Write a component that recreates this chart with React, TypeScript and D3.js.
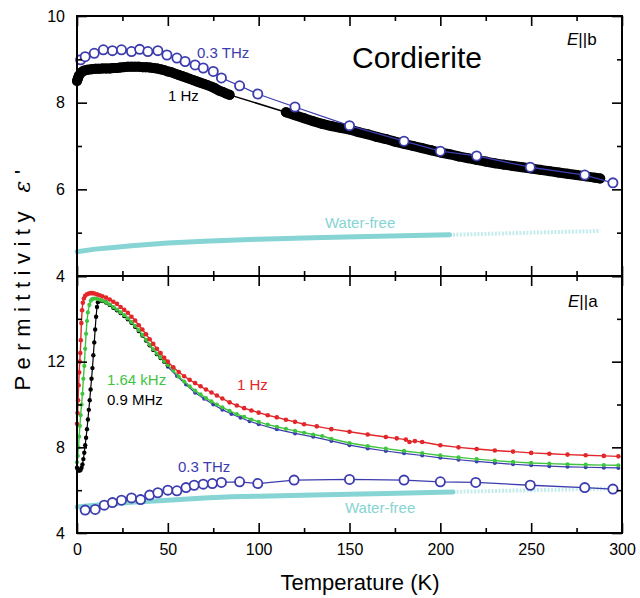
import React, { useEffect, useRef } from "react";
import * as d3 from "d3";

type P = [number, number];

// ---- E||b panel (upper) ----
const bThz: P[] = [
  [2, 8.99], [4.5, 9.06], [9.5, 9.14], [14.5, 9.22], [19.5, 9.2], [24.5, 9.22], [30, 9.18],
  [34.5, 9.23], [39, 9.18], [44.5, 9.2], [49.5, 9.1], [55, 9.03], [59.5, 8.95], [65, 8.87],
  [69.5, 8.8], [75, 8.72], [79.5, 8.57], [89.5, 8.39], [99.5, 8.2], [120, 7.9], [150, 7.47],
  [180, 7.11], [200, 6.88], [220, 6.77], [249.5, 6.51], [279.5, 6.33], [295, 6.15],
];
const b1HzLow: P[] = [
  [0, 8.5], [0.5, 8.56], [1, 8.62], [2, 8.68], [3, 8.72], [4, 8.74], [6, 8.76], [8, 8.77],
  [10, 8.78], [12, 8.78], [14, 8.79], [16, 8.79], [18, 8.79], [20, 8.8], [22, 8.8], [24, 8.81],
  [26, 8.82], [28, 8.83], [30, 8.83], [32, 8.83], [34, 8.83], [36, 8.82], [38, 8.82], [40, 8.81],
  [42, 8.8], [44, 8.79], [46, 8.77], [48, 8.75], [50, 8.72], [52, 8.7], [54, 8.67], [56, 8.64],
  [58, 8.61], [60, 8.58], [62, 8.55], [64, 8.52], [66, 8.49], [68, 8.46], [70, 8.43], [72, 8.4],
  [74, 8.37], [76, 8.33], [78, 8.28], [80, 8.25], [82, 8.21], [84, 8.18],
];
const b1HzHigh: P[] = [
  [115, 7.78], [120, 7.71], [125, 7.64], [130, 7.57], [135, 7.51], [140, 7.46], [145, 7.42],
  [150, 7.38], [155, 7.32], [160, 7.27], [165, 7.21], [170, 7.16], [175, 7.1], [180, 7.05],
  [185, 7.0], [190, 6.95], [195, 6.9], [200, 6.85], [205, 6.81], [210, 6.76], [215, 6.72],
  [220, 6.68], [225, 6.64], [230, 6.6], [235, 6.57], [240, 6.54], [245, 6.51], [250, 6.48],
  [255, 6.45], [260, 6.42], [265, 6.39], [270, 6.36], [275, 6.33], [280, 6.3], [285, 6.27], [288, 6.25],
];
const bDry: P[] = [
  [0, 4.56], [10, 4.62], [20, 4.66], [30, 4.7], [50, 4.76], [70, 4.8], [100, 4.85], [130, 4.88],
  [160, 4.91], [205, 4.95],
];
const bDryFaint: P[] = [[205, 4.95], [250, 5.0], [288, 5.04]];

// ---- E||a panel (lower) ----
const a1Hz: P[] = [
  [0, 9.1], [0.3, 9.6], [0.6, 10.2], [0.9, 10.9], [1.2, 11.5], [1.5, 12.0], [1.8, 12.4], [2.1, 13.0],
  [2.4, 13.8], [2.8, 14.4], [3.2, 14.75], [3.8, 14.95], [4.5, 15.08], [5.5, 15.15], [6.5, 15.18],
  [7.5, 15.2], [8.5, 15.2], [9.5, 15.18], [11, 15.14], [12.5, 15.1], [14, 15.05], [16, 14.99],
  [18, 14.9], [20, 14.8], [22, 14.7], [24, 14.55], [26, 14.42], [28, 14.28], [30, 14.1], [32, 13.92],
  [34, 13.7], [36, 13.5], [38, 13.28], [40, 13.05], [42, 12.83], [44, 12.6], [46, 12.4], [48, 12.18],
  [50, 12.0], [53, 11.74], [56, 11.52], [59, 11.32], [62, 11.15], [65, 11.0], [68, 10.85], [71, 10.7],
  [74, 10.56], [77, 10.42], [80, 10.28], [84, 10.1], [88, 9.95], [92, 9.83], [96, 9.72], [100, 9.62],
  [105, 9.5], [110, 9.4], [115, 9.29], [120, 9.19], [125, 9.08], [132, 8.98], [140, 8.85], [150, 8.73],
  [160, 8.6], [170, 8.48], [176, 8.42], [181, 8.36], [183, 8.25], [186, 8.29], [190, 8.25], [200, 8.1],
  [210, 8.0], [220, 7.92], [230, 7.85], [240, 7.8], [250, 7.74], [260, 7.7], [270, 7.66], [280, 7.63],
  [290, 7.6], [298, 7.58],
];
const a164k: P[] = [
  [0, 7.3], [0.4, 7.6], [0.8, 8.0], [1.2, 8.5], [1.6, 9.0], [2.0, 9.5], [2.5, 10.0], [3.0, 10.5],
  [3.5, 11.2], [4.0, 11.8], [4.5, 12.6], [5.0, 13.3], [5.5, 13.9], [6.0, 14.3], [6.8, 14.65],
  [7.6, 14.85], [8.5, 14.93], [9.5, 14.95], [11, 14.93], [12.5, 14.9], [14, 14.85], [16, 14.77],
  [18, 14.67], [20, 14.55], [22, 14.43], [24, 14.3], [26, 14.17], [28, 14.02], [30, 13.85], [32, 13.67],
  [34, 13.47], [36, 13.25], [38, 13.02], [40, 12.8], [42, 12.58], [44, 12.38], [46, 12.2], [48, 12.02],
  [50, 11.85], [53, 11.58], [56, 11.3], [59, 11.07], [62, 10.85], [65, 10.65], [68, 10.47], [71, 10.3],
  [74, 10.15], [77, 10.0], [80, 9.87], [84, 9.7], [88, 9.55], [92, 9.42], [96, 9.3], [100, 9.19],
  [105, 9.06], [110, 8.96], [115, 8.86], [120, 8.77], [125, 8.68], [130, 8.6], [135, 8.53], [140, 8.4],
  [150, 8.2], [160, 8.06], [170, 7.94], [180, 7.83], [190, 7.73], [200, 7.62], [210, 7.53], [220, 7.45],
  [230, 7.38], [240, 7.32], [250, 7.27], [260, 7.24], [270, 7.21], [280, 7.19], [290, 7.17], [298, 7.16],
];
const a09M: P[] = [
  [0, 7.05], [0.5, 6.95], [1, 6.92], [1.5, 6.92], [2, 6.95], [2.5, 7.05], [3, 7.2], [3.5, 7.45],
  [4, 7.75], [4.5, 8.1], [5, 8.45], [5.5, 8.85], [6, 9.3], [6.5, 9.75], [7, 10.2], [7.5, 10.7],
  [8, 11.2], [8.5, 11.7], [9, 12.3], [9.5, 12.9], [10, 13.5], [10.5, 14.1], [11, 14.55], [11.5, 14.78],
  [12.5, 14.85], [14, 14.83], [16, 14.76], [18, 14.65], [20, 14.52], [22, 14.4], [24, 14.27], [26, 14.13],
  [28, 13.98], [30, 13.82], [32, 13.63], [34, 13.43], [36, 13.22], [38, 12.99], [40, 12.77], [42, 12.55],
  [44, 12.35], [46, 12.17], [48, 12.0], [50, 11.83],
];
const aHiFreq: P[] = [
  [50, 11.76], [55, 11.33], [60, 10.93], [65, 10.55], [70, 10.27], [75, 10.0], [80, 9.76], [85, 9.56],
  [90, 9.38], [95, 9.22], [100, 9.08], [110, 8.84], [120, 8.65], [130, 8.49], [140, 8.3], [150, 8.1],
  [160, 7.95], [170, 7.83], [180, 7.72], [190, 7.62], [200, 7.51], [210, 7.42], [220, 7.34], [230, 7.27],
  [240, 7.21], [250, 7.16], [260, 7.12], [270, 7.09], [280, 7.07], [290, 7.05], [298, 7.04],
];
const aThz: P[] = [
  [4.5, 5.07], [10, 5.1], [15, 5.3], [19.5, 5.42], [24.5, 5.53], [30, 5.64], [35, 5.56], [40, 5.77],
  [44.5, 5.88], [50, 6.0], [55, 5.97], [60, 6.12], [64.5, 6.23], [69.5, 6.28], [74.5, 6.31],
  [79.5, 6.36], [89.5, 6.39], [99.5, 6.31], [119.5, 6.47], [150, 6.5], [180, 6.47], [200, 6.39],
  [219.5, 6.36], [249.5, 6.23], [279.5, 6.12], [295, 6.05],
];
const aDry: P[] = [
  [0, 5.22], [10, 5.3], [20, 5.37], [30, 5.43], [50, 5.53], [70, 5.63], [85, 5.69], [100, 5.72],
  [130, 5.77], [170, 5.84], [207, 5.92],
];
const aDryFaint: P[] = [[207, 5.92], [240, 5.98], [270, 6.03], [298, 6.08]];

const xMajor = [0, 50, 100, 150, 200, 250, 300];
const xMinor = [25, 75, 125, 175, 225, 275];
const bMajor = [4, 6, 8, 10];
const bMinor = [5, 7, 9];
const bLabels = [4, 6, 8, 10];
const aMajor = [4, 8, 12, 16];
const aMinor = [6, 10, 14];
const aLabels = [4, 8, 12];

const BLUE = "#3c3cae";
const CYAN = "#86d4d4";
const CYAN_FAINT = "#c4ecec";
const RED = "#e2262a";
const GREEN = "#3fc43f";
const FONT = "'Liberation Sans', Arial, sans-serif";

export default function App() {
  const ref = useRef<SVGSVGElement>(null);

  useEffect(() => {
    const svg = d3.select(ref.current);
    svg.selectAll("*").remove();

    const left = 77, right = 622, top = 16, mid = 276, bottom = 533;

    const x = d3.scaleLinear().domain([0, 300]).range([left, right]);
    const yB = d3.scaleLinear().domain([4, 10]).range([mid, top]);
    const yA = d3.scaleLinear().domain([4, 16]).range([bottom, mid]);

    const drawAxes = (y: d3.ScaleLinear<number, number>, major: number[], minor: number[], labels: number[], y0: number, y1: number, xLabels: boolean) => {
      const g = svg.append("g");
      const style = (a: d3.Selection<SVGGElement, unknown, null, undefined>) => {
        a.select(".domain").remove();
        a.selectAll("line").attr("stroke", "#000").attr("stroke-width", 1.6);
        a.selectAll("text").attr("font-family", FONT).attr("font-size", 16).attr("fill", "#000");
      };
      // bottom
      g.append("g").attr("transform", `translate(0,${y0})`)
        .call(d3.axisBottom(x).tickValues(xMajor).tickSize(-10).tickPadding(11).tickFormat((d) => (xLabels ? String(d) : "")))
        .call(style);
      g.append("g").attr("transform", `translate(0,${y0})`)
        .call(d3.axisBottom(x).tickValues(xMinor).tickSize(-5).tickFormat(() => ""))
        .call(style);
      // top
      g.append("g").attr("transform", `translate(0,${y1})`)
        .call(d3.axisTop(x).tickValues(xMajor).tickSize(-10).tickFormat(() => ""))
        .call(style);
      g.append("g").attr("transform", `translate(0,${y1})`)
        .call(d3.axisTop(x).tickValues(xMinor).tickSize(-5).tickFormat(() => ""))
        .call(style);
      // left
      g.append("g").attr("transform", `translate(${left},0)`)
        .call(d3.axisLeft(y).tickValues(major).tickSize(-10).tickPadding(12).tickFormat((d) => (labels.includes(d as number) ? String(d) : "")))
        .call(style);
      g.append("g").attr("transform", `translate(${left},0)`)
        .call(d3.axisLeft(y).tickValues(minor).tickSize(-5).tickFormat(() => ""))
        .call(style);
      // right
      g.append("g").attr("transform", `translate(${right},0)`)
        .call(d3.axisRight(y).tickValues(major).tickSize(-10).tickFormat(() => ""))
        .call(style);
      g.append("g").attr("transform", `translate(${right},0)`)
        .call(d3.axisRight(y).tickValues(minor).tickSize(-5).tickFormat(() => ""))
        .call(style);
    };

    const lineOf = (y: d3.ScaleLinear<number, number>) =>
      d3.line<P>().x((d) => x(d[0])).y((d) => y(d[1]));

    const path = (data: P[], y: d3.ScaleLinear<number, number>, color: string, width: number, dash?: string) => {
      svg.append("path").attr("d", lineOf(y)(data))
        .attr("fill", "none").attr("stroke", color).attr("stroke-width", width)
        .attr("stroke-linecap", dash ? "butt" : "round").attr("stroke-linejoin", "round")
        .attr("stroke-dasharray", dash ?? null);
    };

    const dots = (data: P[], y: d3.ScaleLinear<number, number>, color: string, r: number) => {
      svg.append("g").selectAll("circle").data(data).join("circle")
        .attr("cx", (d) => x(d[0])).attr("cy", (d) => y(d[1])).attr("r", r).attr("fill", color);
    };

    const rings = (data: P[], y: d3.ScaleLinear<number, number>) => {
      path(data, y, BLUE, 1.3);
      svg.append("g").selectAll("circle").data(data).join("circle")
        .attr("cx", (d) => x(d[0])).attr("cy", (d) => y(d[1])).attr("r", 4.6)
        .attr("fill", "#fff").attr("stroke", BLUE).attr("stroke-width", 1.8);
    };

    const label = (t: string, px: number, py: number, color: string, size: number) =>
      svg.append("text").attr("x", px).attr("y", py).attr("fill", color)
        .attr("font-family", FONT).attr("font-size", size).text(t);

    // ---- upper panel data ----
    path(bDryFaint, yB, CYAN_FAINT, 4, "2 1.5");
    path(bDry, yB, CYAN, 5);
    path([...b1HzLow, ...b1HzHigh], yB, "#000", 1.5);
    path(b1HzLow, yB, "#000", 10);
    path(b1HzHigh, yB, "#000", 10);
    dots(b1HzLow, yB, "#000", 5);
    dots(b1HzHigh, yB, "#000", 5);
    rings(bThz, yB);

    // ---- lower panel data ----
    path(aDryFaint, yA, CYAN_FAINT, 4, "2 1.5");
    path(aDry, yA, CYAN, 5);
    path(aHiFreq, yA, BLUE, 1.2);
    dots(aHiFreq, yA, BLUE, 2.0);
    path(a09M, yA, "#000", 1.2);
    dots(a09M, yA, "#000", 2.2);
    path(a164k, yA, GREEN, 1.4);
    dots(a164k, yA, GREEN, 2.1);
    path(a1Hz, yA, RED, 1.4);
    dots(a1Hz, yA, RED, 2.3);
    rings(aThz, yA);

    // ---- axes and frames ----
    drawAxes(yB, bMajor, bMinor, bLabels, mid, top, false);
    drawAxes(yA, aMajor, aMinor, aLabels, bottom, mid, true);
    svg.append("rect").attr("x", left).attr("y", top).attr("width", right - left).attr("height", bottom - top)
      .attr("fill", "none").attr("stroke", "#000").attr("stroke-width", 2);
    svg.append("line").attr("x1", left).attr("x2", right).attr("y1", mid).attr("y2", mid)
      .attr("stroke", "#000").attr("stroke-width", 2);

    // ---- texts ----
    label("0.3 THz", 197, 58, BLUE, 15);
    label("1 Hz", 168, 101, "#000", 15);
    label("Cordierite", 352, 68, "#000", 30);
    label("Water-free", 325, 228, CYAN, 15);
    label("1.64 kHz", 107, 385, GREEN, 15);
    label("0.9 MHz", 107, 405, "#000", 15);
    label("1 Hz", 237, 390, RED, 15);
    label("0.3 THz", 178, 472, BLUE, 15);
    label("Water-free", 345, 513, CYAN, 15);

    const eLabel = (sub: string, px: number, py: number) => {
      const t = svg.append("text").attr("x", px).attr("y", py).attr("font-family", FONT).attr("font-size", 17).attr("fill", "#000");
      t.append("tspan").attr("font-style", "italic").text("E");
      t.append("tspan").text("||" + sub);
    };
    eLabel("b", 567, 45);
    eLabel("a", 568, 307);

    svg.append("text").attr("x", 360).attr("y", 590).attr("text-anchor", "middle")
      .attr("font-family", FONT).attr("font-size", 22).attr("fill", "#000").text("Temperature (K)");

    const yl = svg.append("text").attr("transform", `translate(30,277) rotate(-90)`).attr("text-anchor", "middle")
      .attr("font-family", FONT).attr("font-size", 22).attr("letter-spacing", 6.5).attr("fill", "#000");
    yl.append("tspan").text("Permittivity ");
    yl.append("tspan").attr("font-family", "'DejaVu Serif', serif").attr("font-style", "italic").text("ε");
    yl.append("tspan").text("'");
  }, []);

  return (
    <div style={{ position: "absolute", left: 0, top: 0 }}>
      <svg ref={ref} width={640} height={598} style={{ display: "block", background: "#fff" }} />
    </div>
  );
}
